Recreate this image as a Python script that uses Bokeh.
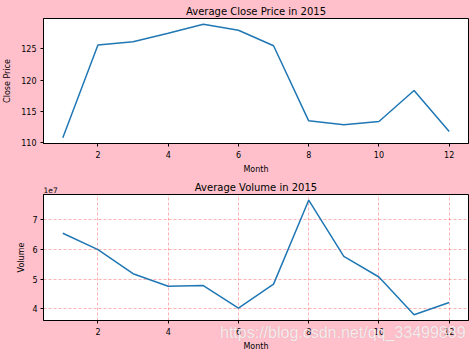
from bokeh.plotting import figure
from bokeh.layouts import column
from bokeh.models import Range1d, SingleIntervalTicker, CustomJSTickFormatter, Label
from bokeh.embed import file_html
from bokeh.resources import INLINE

months = [1, 2, 3, 4, 5, 6, 7, 8, 9, 10, 11, 12]
close_price = [110.8, 125.58, 126.1, 127.47, 128.9, 127.94, 125.47, 113.5, 112.88, 113.4, 118.34, 111.8]
volume = [65400000, 59900000, 51800000, 47600000, 47800000, 40200000, 48300000, 76500000, 57600000, 50700000, 38000000, 42100000]
watermark = "https://blog.csdn.net/qq_33499889"

PINK = "#FFC0CB"
LINE = "#1f77b4"
FONT = "DejaVu Sans"


def padded(vals, frac=0.05):
    lo, hi = min(vals), max(vals)
    d = (hi - lo) * frac
    return lo - d, hi + d


def style(p, ylabel):
    p.background_fill_color = "white"
    p.border_fill_color = PINK
    p.outline_line_color = "black"
    p.outline_line_width = 1
    p.title.text_font = FONT
    p.title.text_font_size = "10px"
    p.title.text_font_style = "normal"
    p.title.text_color = "black"
    p.title.align = "center"
    p.title.standoff = 4
    for ax in (p.xaxis[0], p.yaxis[0]):
        ax.axis_line_color = "black"
        ax.major_tick_line_color = "black"
        ax.major_tick_out = 3
        ax.major_tick_in = 0
        ax.minor_tick_line_color = None
        ax.major_label_text_font = FONT
        ax.major_label_text_font_size = "8px"
        ax.major_label_text_color = "black"
        ax.axis_label_text_font = FONT
        ax.axis_label_text_font_size = "8px"
        ax.axis_label_text_font_style = "normal"
        ax.axis_label_text_color = "black"
        ax.major_label_standoff = 3
    p.xaxis.axis_label = "Month"
    p.xaxis.axis_label_standoff = 4
    p.yaxis.axis_label = ylabel
    p.yaxis.axis_label_standoff = 6
    p.xaxis.ticker = SingleIntervalTicker(interval=2)
    p.min_border_left = 40
    p.min_border_right = 5
    p.min_border_top = 18


xlo, xhi = padded(months)

# Top chart
ylo, yhi = padded(close_price)
p1 = figure(width=473, height=176, output_backend="svg", toolbar_location=None,
            title="Average Close Price in 2015",
            x_range=Range1d(xlo, xhi), y_range=Range1d(ylo, yhi),
            styles={"background-color": PINK})
style(p1, "Close Price")
p1.min_border_bottom = 32
p1.yaxis.ticker = SingleIntervalTicker(interval=5)
p1.grid.visible = False
p1.line(months, close_price, line_color=LINE, line_width=1.5)

# Bottom chart
vlo, vhi = padded(volume)
p2 = figure(width=473, height=177, output_backend="svg", toolbar_location=None,
            title="Average Volume in 2015",
            x_range=Range1d(xlo, xhi), y_range=Range1d(vlo, vhi),
            styles={"background-color": PINK})
style(p2, "Volume")
p2.yaxis.axis_label_standoff = 3
p2.yaxis.major_label_standoff = 2
p2.min_border_bottom = 33
p2.yaxis.ticker = SingleIntervalTicker(interval=1e7)
p2.yaxis.formatter = CustomJSTickFormatter(code="return (tick / 1e7).toFixed(0);")
for g in (p2.xgrid[0], p2.ygrid[0]):
    g.grid_line_color = "red"
    g.grid_line_alpha = 0.3
    g.grid_line_dash = "3 2"
    g.grid_line_width = 1
p2.line(months, volume, line_color=LINE, line_width=1.5)

# axis offset text "1e7", drawn in the side panel so it is not clipped
p2.add_layout(Label(x=xlo, y=vhi, text="1e7", y_offset=2, text_baseline="bottom",
                    text_font=FONT, text_font_size="7.5px", text_color="black"),
              "left")

layout = column(p1, p2, spacing=0, styles={"background-color": PINK})

html = file_html(layout, INLINE)
css = "<style>html,body{margin:0;padding:0;background:#FFC0CB;}</style>"
wm = ('<div style="position:absolute;left:220px;top:325px;font-family:\'Liberation Sans\',Arial,sans-serif;'
      'font-size:16px;line-height:16px;white-space:nowrap;color:rgba(255,255,255,0.78);'
      'text-shadow:0 0 1px rgba(120,120,120,0.35);pointer-events:none;z-index:10;">'
      + watermark + '</div>')
html = html.replace("</head>", css + "</head>", 1)
html = html.replace("</body>", wm + "</body>", 1)
open("out.html", "w").write(html)
